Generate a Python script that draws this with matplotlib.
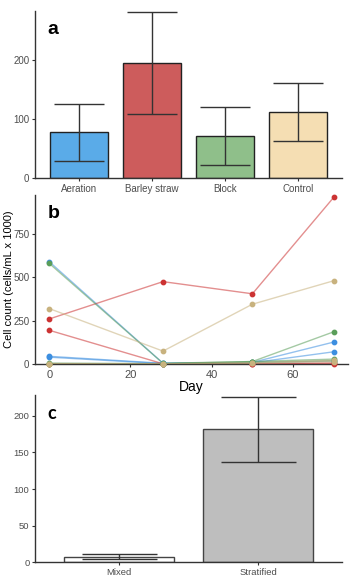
import matplotlib.pyplot as plt

plt.rcParams['font.family'] = ['Liberation Sans', 'DejaVu Sans']

# panel a: mean cell count per treatment
treatments = ["Aeration", "Barley straw", "Block", "Control"]
treat_mean = [78, 195, 71, 112]
treat_low = [28, 108, 22, 63]
treat_high = [125, 280, 120, 160]
treat_colors = ["#5aabe8", "#cd5c5c", "#8fbf8a", "#f5deb3"]

# panel b: cell counts over time, 3 tanks per treatment
days = [0, 28, 50, 70]
aeration_tanks = [[590, 5, 8, 18], [45, 5, 10, 127], [40, 3, 8, 71]]
barley_tanks = [[260, 475, 405, 960], [195, 2, 2, 7], [1, 0, 1, 3]]
block_tanks = [[580, 5, 15, 29], [6, 3, 15, 186], [2, 2, 10, 20]]
control_tanks = [[320, 75, 345, 480], [3, 2, 8, 22], [2, 2, 5, 15]]

# panel c: mixed vs stratified
mix_groups = ["Mixed", "Stratified"]
mix_mean = [8, 182]
mix_low = [4, 137]
mix_high = [12, 226]
mix_colors = ["white", "#bebebe"]

tick_col = "#4d4d4d"
spine_col = "#333333"


def style(ax, size):
    for s in ["top", "right"]:
        ax.spines[s].set_visible(False)
    for s in ["left", "bottom"]:
        ax.spines[s].set_color(spine_col)
        ax.spines[s].set_linewidth(1.0)
    ax.tick_params(colors=spine_col, labelcolor=tick_col, labelsize=size,
                   length=2.5, width=0.8, pad=1.5)


fig = plt.figure(figsize=(3.5, 5.78), dpi=100)

# --- a ---
ax = fig.add_axes([0.1, 0.692, 0.877, 0.289])
x = range(len(treatments))
ax.bar(x, treat_mean, width=0.8, color=treat_colors, edgecolor="#222222", linewidth=1.0)
yerr = [[m - l for m, l in zip(treat_mean, treat_low)],
        [h - m for m, h in zip(treat_mean, treat_high)]]
ax.errorbar(x, treat_mean, yerr=yerr, fmt="none", ecolor="#333333",
            elinewidth=1.0, capsize=18, capthick=1.0)
ax.set_xticks(list(x))
ax.set_xticklabels(treatments)
ax.set_yticks([0, 100, 200])
ax.set_xlim(-0.6, 3.6)
ax.set_ylim(0, 282)
style(ax, 7)
ax.text(0.04, 0.94, "a", transform=ax.transAxes, fontsize=14, fontweight="bold",
        va="top", ha="left")

# --- b ---
ax = fig.add_axes([0.1, 0.370, 0.894, 0.293])
groups = [
    (aeration_tanks, "#3d8fe0"),
    (barley_tanks, "#cc3333"),
    (block_tanks, "#5a9e5a"),
    (control_tanks, "#c8b27e"),
]
for tanks, col in groups:
    for t in tanks:
        ax.plot(days, t, color=col, linewidth=1.0, alpha=0.55, clip_on=False)
        ax.scatter(days, t, s=10, color=col, zorder=3, clip_on=False)
ax.set_xlim(-3.5, 73.5)
ax.set_ylim(0, 975)
ax.set_xticks([0, 20, 40, 60])
ax.set_yticks([0, 250, 500, 750])
style(ax, 8)
ax.tick_params(axis="y", labelsize=7)
ax.set_xlabel("Day", fontsize=10, labelpad=0)
ax.set_ylabel("Cell count (cells/mL x 1000)", fontsize=8)
ax.yaxis.set_label_coords(-0.068, 0.5)
ax.text(0.04, 0.94, "b", transform=ax.transAxes, fontsize=14, fontweight="bold",
        va="top", ha="left")

# --- c ---
ax = fig.add_axes([0.1, 0.027, 0.877, 0.290])
x = range(len(mix_groups))
ax.bar(x, mix_mean, width=0.79, color=mix_colors, edgecolor="#444444", linewidth=1.0)
yerr = [[m - l for m, l in zip(mix_mean, mix_low)],
        [h - m for m, h in zip(mix_mean, mix_high)]]
ax.errorbar(x, mix_mean, yerr=yerr, fmt="none", ecolor="#333333",
            elinewidth=1.0, capsize=27, capthick=1.0)
ax.set_xticks(list(x))
ax.set_xticklabels(mix_groups)
ax.set_yticks([0, 50, 100, 150, 200])
ax.set_xlim(-0.6, 1.6)
ax.set_ylim(0, 228.5)
style(ax, 6.8)
ax.text(0.04, 0.94, "c", transform=ax.transAxes, fontsize=13, fontweight="bold",
        va="top", ha="left", family=["Lato", "DejaVu Sans"])

fig.savefig("out.png", dpi=100)
